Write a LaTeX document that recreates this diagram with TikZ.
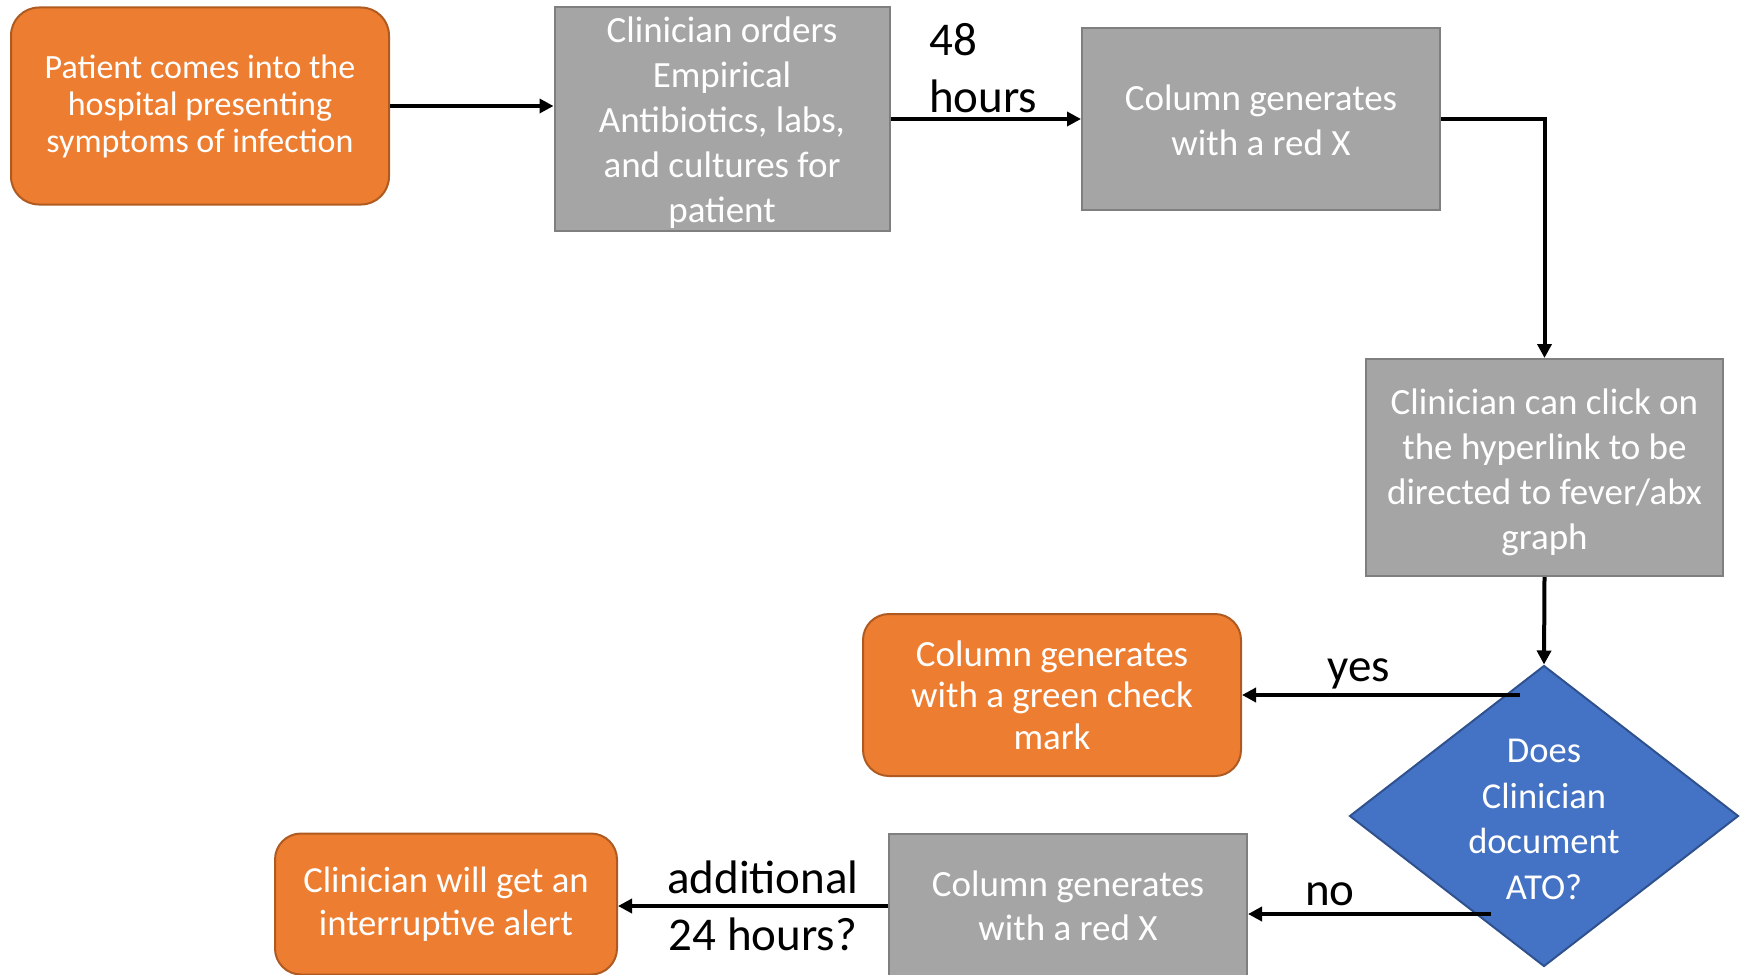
\documentclass[tikz,border=0pt]{standalone}
\usepackage{fontspec}
\setmainfont{Carlito}
\usetikzlibrary{shapes.geometric,arrows.meta}
\definecolor{orf}{HTML}{ED7D31}
\definecolor{orb}{HTML}{AE5A21}
\definecolor{grf}{HTML}{A5A5A5}
\definecolor{grb}{HTML}{7F7F7F}
\definecolor{blf}{HTML}{4472C4}
\definecolor{blb}{HTML}{2F528F}
\begin{document}
\begin{tikzpicture}[x=1pt,y=-1pt,
  orangebox/.style={draw=orb, fill=orf, line width=2pt, rounded corners=28pt, text=white, align=center, inner sep=0pt},
  graybox/.style={draw=grb, fill=grf, line width=2pt, text=white, align=center, inner sep=0pt},
  decision/.style={diamond, draw=blb, fill=blf, line width=2pt, inner sep=0pt},
  boxtext/.style={text=white, align=center, inner sep=0pt},
  arr/.style={line width=4pt, -{Triangle[length=14pt,width=14pt]}},
  lbl/.style={font=\fontsize{47}{57}\selectfont, inner sep=0pt}]
\useasboundingbox (0,0) rectangle (1744,974);
\clip (0,0) rectangle (1744,974);

\node[orangebox, minimum width=378pt, minimum height=197pt, font=\fontsize{34}{37}\selectfont] (b1) at (200,106)
  {Patient comes into the\\hospital presenting\\symptoms of infection};
\node[graybox, minimum width=335pt, minimum height=224pt] (b2) at (722,119) {};
\node[boxtext, font=\fontsize{37}{45}\selectfont] (b2t) at ([yshift=-4pt]b2.center)
  {Clinician orders\\Empirical\\Antibiotics, labs,\\and cultures for\\patient};
\node[graybox, minimum width=358pt, minimum height=182pt] (b3) at (1261,119) {};
\node[boxtext, font=\fontsize{37}{45}\selectfont] (b3t) at ([yshift=-1pt]b3.center)
  {Column generates\\with a red X};
\node[graybox, minimum width=357pt, minimum height=217pt] (b4) at (1544.5,467.5) {};
\node[boxtext, font=\fontsize{37}{45}\selectfont] (b4t) at ([yshift=-4.5pt]b4.center)
  {Clinician can click on\\the hyperlink to be\\directed to fever/abx\\graph};
\node[decision, minimum width=389pt, minimum height=301pt] (dia) at (1544,816) {};
\node[boxtext, font=\fontsize{36.5}{45.5}\selectfont] (diat) at ([yshift=-3.5pt]dia.center)
  {Does\\Clinician\\document\\ATO?};
\node[orangebox, rounded corners=26pt, minimum width=378pt, minimum height=162pt, font=\fontsize{37}{41.7}\selectfont] (b5) at (1052,695)
  {Column generates\\with a green check\\mark};
\node[graybox, minimum width=358pt, minimum height=144pt, font=\fontsize{37}{44.5}\selectfont] (b6) at (1068,906)
  {Column generates\\with a red X};
\node[orangebox, rounded corners=26pt, minimum width=342pt, minimum height=141pt, font=\fontsize{36.7}{43}\selectfont] (b7) at (446,904)
  {Clinician will get an\\interruptive alert};

\node[lbl, align=left, anchor=west] (l48) at (929,68) {48\\hours};
\node[lbl] (lyes) at (1359,674) {yes};
\node[lbl] (lno) at (1330,894) {no};
\node[lbl, align=center] (ladd) at (763,906) {additional\\24 hours?};

\coordinate (yesS) at (1520,695);
\coordinate (noS) at (1491,914);

\draw[arr] (b1.east) -- (b1.east -| b2.west);
\draw[arr] (b2.east) -- (b3.west);
\draw[arr] (b3.east) -| (b4.north);
\draw[arr] (b4.south) -- (dia.north);
\draw[arr] (yesS) -- (yesS -| b5.east);
\draw[arr] (noS) -- (noS -| b6.east);
\draw[arr] (b6.west) -- (b6.west -| b7.east);
\end{tikzpicture}
\end{document}
